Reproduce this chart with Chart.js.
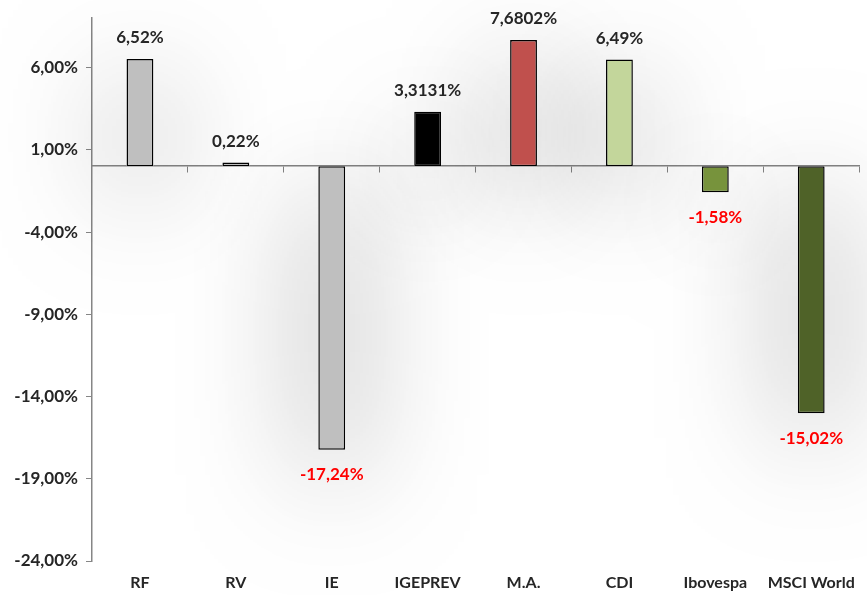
<!DOCTYPE html>
<html>
<head>
<meta charset="utf-8">
<script src="https://cdn.jsdelivr.net/npm/chart.js@4/dist/chart.umd.min.js"></script>
<style>
  body { margin: 0; background: #fff; }
  #wrap { width: 867px; height: 595px; }
</style>
</head>
<body>
<div id="wrap"><canvas id="chBars"></canvas></div>
<script>
var categories = ['RF', 'RV', 'IE', 'IGEPREV', 'M.A.', 'CDI', 'Ibovespa', 'MSCI World'];
var returns = [6.52, 0.22, -17.24, 3.3131, 7.6802, 6.49, -1.58, -15.02];
var decimals = [2, 2, 2, 4, 4, 2, 2, 2];
var barColors = ['#bfbfbf', '#bfbfbf', '#bfbfbf', '#000000', '#c0504d', '#c3d69b', '#77933c', '#4f6228'];
var yTicks = [-24, -19, -14, -9, -4, 1, 6];

var fontName = 'Lato, "Liberation Sans", sans-serif';

function pct(v, d) {
    return v.toFixed(d).replace('.', ',') + '%';
}

// soft glow under the bars, like the office shadow effect
// (bar element clips its own shadow, so paint it underneath first)
var glowPlugin = {
    id: 'glow',
    beforeDatasetsDraw: function (chart) {
        var ctx = chart.ctx;
        var meta = chart.getDatasetMeta(0);
        ctx.save();
        ctx.shadowColor = 'rgba(0,0,0,0.55)';
        ctx.shadowBlur = 120;
        ctx.shadowOffsetY = 25;
        ctx.fillStyle = '#ffffff';
        meta.data.forEach(function (bar) {
            var top = Math.min(bar.y, bar.base);
            var h = Math.abs(bar.base - bar.y);
            ctx.fillRect(bar.x - bar.width / 2, top, bar.width, h);
        });
        ctx.restore();
    }
};

var valueLabels = {
    id: 'valueLabels',
    afterDatasetsDraw: function (chart) {
        var ctx = chart.ctx;
        var meta = chart.getDatasetMeta(0);
        ctx.save();
        ctx.font = 'bold 17px ' + fontName;
        ctx.textAlign = 'center';
        ctx.textBaseline = 'middle';
        meta.data.forEach(function (bar, i) {
            var v = returns[i];
            if (v >= 0) {
                ctx.fillStyle = '#262626';
                ctx.fillText(pct(v, decimals[i]), bar.x, bar.y - 21);
            } else {
                ctx.fillStyle = '#ff0000';
                ctx.fillText(pct(v, decimals[i]), bar.x, bar.y + 25);
            }
        });
        ctx.restore();
    }
};

new Chart(document.getElementById('chBars'), {
    type: 'bar',
    data: {
        labels: categories,
        datasets: [{
            data: returns,
            backgroundColor: barColors,
            borderColor: '#000000',
            borderWidth: 1.5,
            borderSkipped: false,
            barPercentage: 0.8,
            categoryPercentage: 0.35
        }]
    },
    plugins: [glowPlugin, valueLabels],
    options: {
        responsive: true,
        maintainAspectRatio: false,
        animation: false,
        layout: { padding: { top: 18, right: 3, left: 0, bottom: 0 } },
        plugins: { legend: { display: false }, tooltip: { enabled: false } },
        scales: {
            x: {
                position: 'bottom',
                grid: { display: false, drawTicks: false },
                border: { display: false },
                ticks: {
                    padding: 12,
                    maxRotation: 0,
                    minRotation: 0,
                    autoSkip: false,
                    color: '#262626',
                    font: { family: fontName, size: 16, weight: 'bold' }
                },
                afterFit: function (s) { s.height = 34; }
            },
            x2: {
                type: 'category',
                labels: categories,
                position: { y: 0 },
                offset: true,
                grid: { display: true, offset: true, drawOnChartArea: false, drawTicks: true, tickLength: 6, color: '#868686' },
                border: { display: true, color: '#868686', width: 1.5 },
                ticks: { display: false }
            },
            y: {
                min: -24,
                max: 9,
                afterBuildTicks: function (s) {
                    s.ticks = yTicks.map(function (v) { return { value: v }; });
                },
                afterFit: function (s) { s.width = 92; },
                grid: { drawOnChartArea: false, drawTicks: true, tickLength: 6, color: '#868686' },
                border: { display: true, color: '#868686', width: 1.5 },
                ticks: {
                    padding: 8,
                    color: '#262626',
                    font: { family: fontName, size: 17, weight: 'bold' },
                    callback: function (v) { return pct(v, 2); }
                }
            }
        }
    }
});
</script>
</body>
</html>
